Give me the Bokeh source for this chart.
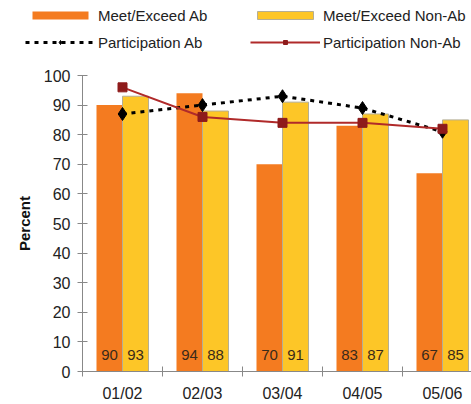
from bokeh.plotting import figure
from bokeh.layouts import column, row
from bokeh.models import Range1d, FixedTicker, Legend, LegendItem, ColumnDataSource
from bokeh.core.properties import value
from bokeh.embed import file_html
from bokeh.resources import INLINE

years = ["01/02", "02/03", "03/04", "04/05", "05/06"]
meet_ab = [90, 94, 70, 83, 67]
meet_nonab = [93, 88, 91, 87, 85]
part_ab = [87, 90, 93, 89, 81]
part_nonab = [96, 86, 84, 84, 82]
y_ticks = list(range(0, 101, 10))

FONT = "Liberation Sans"
n = len(years)
centers = [i + 0.5 for i in range(n)]
bw = 0.325
ab_x = [c - bw / 2 for c in centers]
nab_x = [c + bw / 2 for c in centers]

src = ColumnDataSource(dict(
    c=centers, ab_x=ab_x, nab_x=nab_x,
    meet_ab=meet_ab, meet_nonab=meet_nonab,
    part_ab=part_ab, part_nonab=part_nonab,
    base=[0] * n,
    lab_ab=[str(v) for v in meet_ab], lab_nab=[str(v) for v in meet_nonab],
))

STY = dict(
    ab_bar=dict(fill_color="#F47B20", line_color=None),
    nab_bar=dict(fill_color="#FDC627", line_color="#B5AE94", line_width=1),
    ab_line=dict(line_color="black", line_width=3, line_dash="4 5"),
    ab_mark=dict(marker="diamond", size=13, fill_color="black", line_color="black"),
    nab_line=dict(line_color="#B02A2A", line_width=2),
    nab_mark=dict(marker="square", size=9, fill_color="#8E1B1B", line_color="#8E1B1B"),
)


def draw(fig):
    r = {}
    r["ab_bar"] = fig.vbar(x="ab_x", top="meet_ab", width=bw, source=src, **STY["ab_bar"])
    r["nab_bar"] = fig.vbar(x="nab_x", top="meet_nonab", width=bw, source=src, **STY["nab_bar"])
    r["ab_line"] = fig.line(x="c", y="part_ab", source=src, **STY["ab_line"])
    r["ab_mark"] = fig.scatter(x="c", y="part_ab", source=src, **STY["ab_mark"])
    r["nab_line"] = fig.line(x="c", y="part_nonab", source=src, **STY["nab_line"])
    r["nab_mark"] = fig.scatter(x="c", y="part_nonab", source=src, **STY["nab_mark"])
    return r


# ---------------- legend strip ----------------
LEG_H = 62
leg = figure(width=471, height=LEG_H, output_backend="svg", toolbar_location=None,
             x_range=Range1d(0, 1), y_range=Range1d(1000, 1001),
             x_axis_location=None, y_axis_location=None, min_border=0)
leg.outline_line_color = None
leg.xgrid.visible = False
leg.ygrid.visible = False
lr = draw(leg)

legend = Legend(items=[
    LegendItem(label="Meet/Exceed Ab", renderers=[lr["ab_bar"]]),
    LegendItem(label="Meet/Exceed Non-Ab", renderers=[lr["nab_bar"]]),
    LegendItem(label="Participation Ab", renderers=[lr["ab_line"], lr["ab_mark"]]),
    LegendItem(label="Participation Non-Ab", renderers=[lr["nab_line"], lr["nab_mark"]]),
], orientation="horizontal", ncols=2, location=(25, 11),
    glyph_width=70, glyph_height=10, label_standoff=3, label_width=143,
    label_height=18, spacing=9, padding=0, margin=0, border_line_color=None,
    background_fill_alpha=0, label_text_font=FONT, label_text_font_size="15px",
    label_text_color="#222222")
leg.add_layout(legend, "center")

# ---------------- main chart ----------------
p = figure(width=471, height=404 - LEG_H, output_backend="svg", toolbar_location=None,
           x_range=Range1d(0, 389 / 80), y_range=Range1d(0, 100),
           min_border_left=82, min_border_right=0, min_border_top=75 - LEG_H,
           min_border_bottom=32)
p.outline_line_color = None
p.xgrid.visible = False
p.ygrid.visible = False
draw(p)

p.text(x="ab_x", y="base", text="lab_ab", source=src, y_offset=-17,
       text_align="center", text_baseline="middle", text_font=value(FONT),
       text_font_size="15px", text_color="#3A2A1A")
p.text(x="nab_x", y="base", text="lab_nab", source=src, y_offset=-17,
       text_align="center", text_baseline="middle", text_font=value(FONT),
       text_font_size="15px", text_color="#3A2A1A")

xa = p.xaxis[0]
xa.ticker = FixedTicker(ticks=centers, minor_ticks=list(range(0, n + 1)))
xa.major_label_overrides = {c: y for c, y in zip(centers, years)}
xa.major_tick_line_color = None
xa.major_tick_out = 0
xa.major_tick_in = 0
xa.major_label_standoff = 8
xa.minor_tick_in = 5
xa.minor_tick_out = 5
xa.minor_tick_line_color = "#888888"
xa.axis_line_color = "#888888"
xa.major_label_text_font = FONT
xa.major_label_text_font_size = "16px"
xa.major_label_text_color = "#222222"

ya = p.yaxis[0]
ya.ticker = FixedTicker(ticks=y_ticks)
ya.major_tick_in = 5
ya.major_tick_out = 5
ya.minor_tick_line_color = None
ya.major_tick_line_color = "#888888"
ya.axis_line_color = "#888888"
ya.major_label_standoff = 7
ya.major_label_text_font = FONT
ya.major_label_text_font_size = "16px"
ya.major_label_text_color = "#222222"
ya.axis_label = "Percent"
ya.axis_label_text_font = FONT
ya.axis_label_text_font_size = "15px"
ya.axis_label_text_font_style = "bold"
ya.axis_label_text_color = "#111111"
ya.axis_label_standoff = 8

layout = column(row(leg, spacing=0), p, spacing=0)
open("out.html", "w").write(file_html(layout, INLINE))
